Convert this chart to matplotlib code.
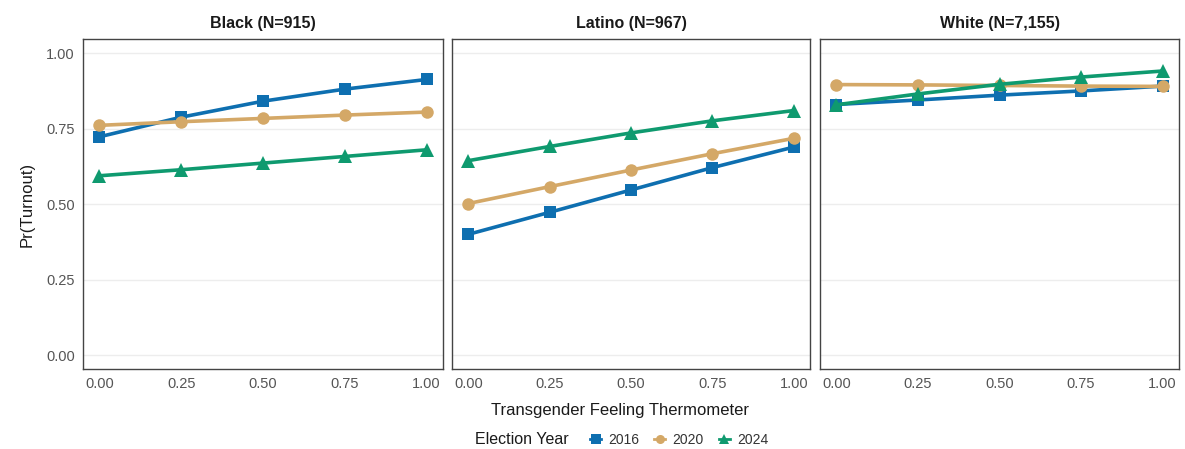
import matplotlib.pyplot as plt
from matplotlib.lines import Line2D

plt.rcParams['font.family'] = ['Liberation Sans', 'DejaVu Sans']

thermometer = [0.00, 0.25, 0.50, 0.75, 1.00]
tick_labels = ["0.00", "0.25", "0.50", "0.75", "1.00"]
years = ["2016", "2020", "2024"]
groups = ["Black (N=915)", "Latino (N=967)", "White (N=7,155)"]

black_2016 = [0.724, 0.789, 0.842, 0.882, 0.914]
black_2020 = [0.762, 0.774, 0.785, 0.796, 0.806]
black_2024 = [0.595, 0.615, 0.637, 0.659, 0.681]

latino_2016 = [0.401, 0.474, 0.548, 0.622, 0.690]
latino_2020 = [0.503, 0.559, 0.614, 0.668, 0.719]
latino_2024 = [0.645, 0.692, 0.737, 0.777, 0.811]

white_2016 = [0.831, 0.846, 0.862, 0.876, 0.892]
white_2020 = [0.897, 0.896, 0.894, 0.892, 0.891]
white_2024 = [0.830, 0.866, 0.898, 0.922, 0.942]

panel_data = [
    [black_2016, black_2020, black_2024],
    [latino_2016, latino_2020, latino_2024],
    [white_2016, white_2020, white_2024],
]

colors = ["#0E6FB0", "#D4A867", "#0F9A6F"]
markers = ["s", "o", "^"]
msizes = [9, 9, 10.5]

fig = plt.figure(figsize=(11.85, 4.49), dpi=100)
W, H = 1185, 449
lefts = [83, 452, 820]
widths = [360, 358, 359]
top, bottom = 39, 369

for i, (left, width) in enumerate(zip(lefts, widths)):
    ax = fig.add_axes([left / W, (H - bottom) / H, width / W, (bottom - top) / H])
    for series, c, m, ms in zip(panel_data[i], colors, markers, msizes):
        ax.plot(thermometer, series, color=c, marker=m, markersize=ms,
                linewidth=2.6, markeredgewidth=0, zorder=3)
    ax.set_xlim(-0.05, 1.05)
    ax.set_ylim(-0.045, 1.048)
    ax.set_xticks(thermometer)
    ax.set_xticklabels(tick_labels)
    ax.set_yticks(thermometer)
    if i == 0:
        ax.set_yticklabels(tick_labels)
        ax.set_ylabel("Pr(Turnout)", fontsize=12, color="#1a1a1a", labelpad=8)
    else:
        ax.set_yticklabels([])
    ax.tick_params(length=0, labelsize=10.5, labelcolor="#555555", pad=6)
    ax.grid(axis='y', color="#EDEDED", linewidth=1.0)
    ax.grid(axis='x', visible=False)
    ax.set_axisbelow(True)
    for sp in ax.spines.values():
        sp.set_color("#444444")
        sp.set_linewidth(1.0)
    ax.set_title(groups[i], fontsize=11.5, fontweight='bold', color="#1a1a1a", pad=8)

fig.text(620 / W, 1 - 411 / H, "Transgender Feeling Thermometer",
         ha='center', va='center', fontsize=12, color="#1a1a1a")

fig.text(475 / W, 1 - 440 / H, "Election Year", ha='left', va='center',
         fontsize=11.5, color="#1a1a1a")
handles = [Line2D([0], [0], color=c, marker=m, markersize=6.5, linewidth=2,
                  markeredgewidth=0) for c, m in zip(colors, markers)]
fig.legend(handles, years, loc='center left', bbox_to_anchor=(590 / W, 1 - 440 / H),
           ncol=3, frameon=False, fontsize=10, handlelength=0.8,
           handletextpad=0.5, columnspacing=1.1, borderpad=0, borderaxespad=0,
           labelcolor="#333333")

fig.savefig("out.png", dpi=100, facecolor="white")
